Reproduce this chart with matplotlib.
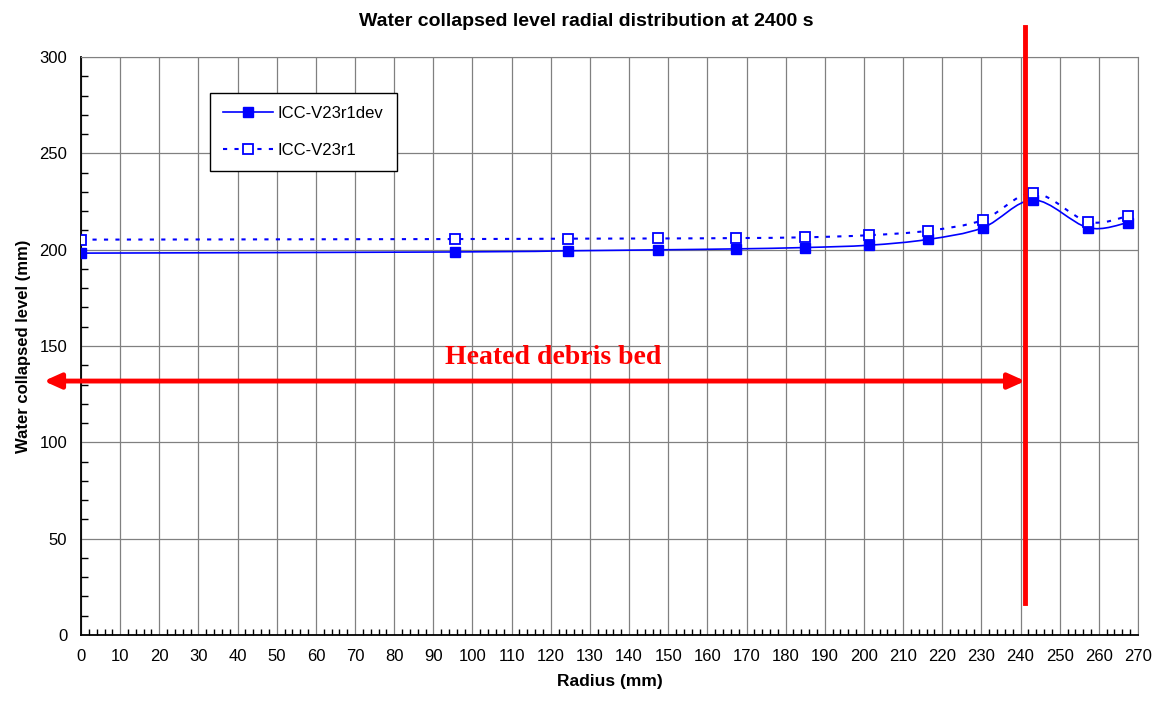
import matplotlib.pyplot as plt
import numpy as np
from matplotlib.path import Path
from matplotlib.patches import PathPatch

plt.rcParams['font.family'] = ['Liberation Sans', 'DejaVu Sans']

radius = [0, 95.5, 124.4, 147.4, 167.3, 185, 201.3, 216.3, 230.4, 243.3, 257.2, 267.4]
level_dev = [198.2, 198.8, 199.4, 199.9, 200.4, 201.1, 202.3, 205.3, 211.4, 225.8, 211.4, 214.0]
level_r1 = [205.2, 205.5, 205.7, 205.8, 206.0, 206.4, 207.5, 209.8, 215.4, 229.4, 214.5, 217.4]

bed_edge = 241.2
arrow_y = 131.8


def smooth_path(xs, ys, tension=1.0 / 6):
    # Excel-like smoothed line: Catmull-Rom segments as cubic Bezier curves
    pts = np.column_stack([np.asarray(xs, float), np.asarray(ys, float)])
    verts = [pts[0]]
    codes = [Path.MOVETO]
    n = len(pts)
    for i in range(n - 1):
        p0 = pts[i - 1] if i > 0 else pts[i]
        p1 = pts[i]
        p2 = pts[i + 1]
        p3 = pts[i + 2] if i + 2 < n else pts[i + 1]
        verts += [p1 + (p2 - p0) * tension, p2 - (p3 - p1) * tension, p2]
        codes += [Path.CURVE4] * 3
    return Path(verts, codes)


fig = plt.figure(figsize=(11.56, 7.01), dpi=100)
ax = fig.add_axes([0.0701, 0.0942, 0.9143, 0.8245])

ax.add_patch(PathPatch(smooth_path(radius, level_dev), fill=False,
                       edgecolor='#0000ff', lw=1.2, zorder=3))
ax.add_patch(PathPatch(smooth_path(radius, level_r1), fill=False,
                       edgecolor='#0000ff', lw=1.5, linestyle=(0, (2, 3.5)), zorder=3))
ax.plot(radius, level_dev, ls='none', marker='s', ms=7.5, color='#0000ff', zorder=4)
ax.plot(radius, level_r1, ls='none', marker='s', ms=7.5, mfc='white', mec='#0000ff',
        mew=1.3, zorder=4)

# legend proxies
h1, = ax.plot([], [], color='#0000ff', lw=1.2, marker='s', ms=7.5)
h2, = ax.plot([], [], color='#0000ff', lw=1.5, ls=(0, (2, 3.5)), marker='s', ms=7.5,
              mfc='white', mec='#0000ff', mew=1.3)
leg = ax.legend([h1, h2], ['ICC-V23r1dev', 'ICC-V23r1'], loc='upper left',
                bbox_to_anchor=(0.122, 0.938), fancybox=False, edgecolor='black',
                framealpha=1, fontsize=12, handlelength=3.0, handletextpad=0.25,
                labelspacing=1.3, borderpad=0.8, borderaxespad=0)
leg.get_frame().set_linewidth(1.0)
leg.set_zorder(6)

# heated bed boundary and arrow
ax.plot([bed_edge, bed_edge], [16.5, 315.5], color='#ff0000', lw=3.5,
        clip_on=False, zorder=5)
ax.annotate('', xy=(bed_edge, arrow_y), xytext=(-9.5, arrow_y),
            xycoords='data', annotation_clip=False,
            arrowprops=dict(arrowstyle='<|-|>,head_length=1.0,head_width=0.45',
                            color='#ff0000', lw=3.5, shrinkA=0, shrinkB=0))
ax.text(120.5, 144, 'Heated debris bed', color='#ff0000', fontsize=20,
        fontweight='bold', family=['Liberation Serif', 'DejaVu Serif'],
        ha='center', va='center', zorder=5)

ax.set_xlim(0, 270)
ax.set_ylim(0, 300)
ax.set_xticks(np.arange(0, 271, 10))
ax.set_xticks(np.arange(0, 271, 2), minor=True)
ax.set_yticks(np.arange(0, 301, 50))
ax.set_yticks(np.arange(0, 301, 10), minor=True)
ax.grid(True, which='major', color='#808080', lw=0.9)
ax.set_axisbelow(True)
ax.tick_params(which='major', direction='in', length=0, labelsize=12, pad=10)
ax.tick_params(which='minor', direction='in', length=4, width=1)
ax.tick_params(axis='y', which='minor', length=5)
for s in ['top', 'right']:
    ax.spines[s].set_color('#808080')
for s in ['left', 'bottom']:
    ax.spines[s].set_color('black')
    ax.spines[s].set_linewidth(1.3)

ax.set_xlabel('Radius (mm)', fontsize=12.5, fontweight='bold', labelpad=7)
ax.set_ylabel('Water collapsed level (mm)', fontsize=12, fontweight='bold', labelpad=6)
fig.text(0.507, 0.969, 'Water collapsed level radial distribution at 2400 s',
         fontsize=14, fontweight='bold', ha='center', va='center')

fig.savefig('out.png', dpi=100)
